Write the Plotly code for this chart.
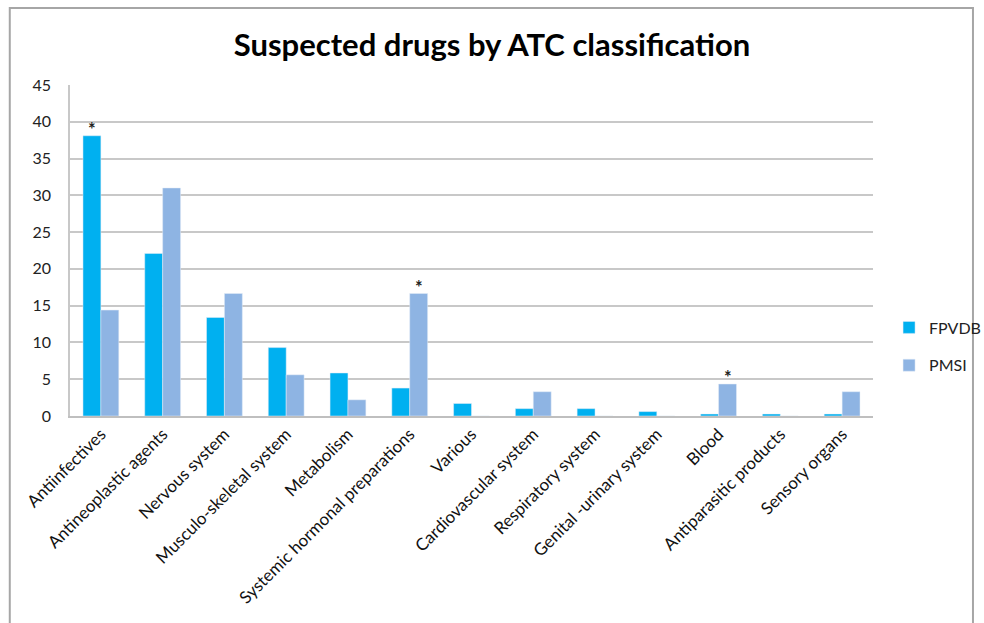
import plotly.graph_objects as go

categories = ["Antiinfectives", "Antineoplastic agents", "Nervous system", "Musculo-skeletal system",
              "Metabolism", "Systemic hormonal preparations", "Various", "Cardiovascular system",
              "Respiratory system", "Genital -urinary system", "Blood", "Antiparasitic products",
              "Sensory organs"]
fpvdb = [38.1, 22.1, 13.4, 9.3, 5.85, 3.8, 1.7, 1.0, 1.0, 0.6, 0.27, 0.27, 0.27]
pmsi = [14.4, 31.0, 16.65, 5.6, 2.2, 16.65, 0, 3.3, 0, 0, 4.35, 0, 3.3]
# (category index, series) marked with an asterisk
stars = [(0, "FPVDB"), (5, "PMSI"), (10, "PMSI")]

font = "Lato, 'Open Sans', sans-serif"

fig = go.Figure()
fig.add_trace(go.Bar(name="FPVDB", x=categories, y=fpvdb, marker_color="#00B0F0",
                     offsetgroup="a", legendgroup="a"))
fig.add_trace(go.Bar(name="PMSI", x=categories, y=pmsi, marker_color="#8EB4E3",
                     offsetgroup="b", legendgroup="b"))

for idx, ser in stars:
    vals = fpvdb if ser == "FPVDB" else pmsi
    fig.add_annotation(x=categories[idx], y=vals[idx], text="<b>*</b>", showarrow=False,
                       xshift=-9 if ser == "FPVDB" else 9, yshift=7,
                       font=dict(size=18, color="#222222", family=font))

fig.update_layout(
    width=984, height=623,
    margin=dict(l=70, r=111, t=85, b=207, autoexpand=False),
    paper_bgcolor="white", plot_bgcolor="white",
    barmode="group", bargap=0.42, bargroupgap=0,
    title=dict(text="<b>Suspected drugs by ATC classification</b>", x=0.5, xref="container",
               xanchor="center", y=0.928, yanchor="middle",
               font=dict(size=31, color="#000000", family=font)),
    font=dict(family=font, size=17, color="#111111"),
    legend=dict(x=1.02, y=0.21, yanchor="middle", xanchor="left", bgcolor="rgba(0,0,0,0)",
                font=dict(size=16, color="#222222"), traceorder="grouped", tracegroupgap=14,
                itemwidth=30),
    showlegend=True,
    shapes=[dict(type="rect", xref="paper", yref="paper", x0=-0.075, x1=1.1245, y0=-0.7, y1=1.233,
                 line=dict(color="#A6A6A6", width=2), fillcolor="rgba(0,0,0,0)", layer="below")],
)
fig.update_xaxes(tickangle=-45, showline=True, linecolor="#BFBFBF", linewidth=1.5,
                 tickfont=dict(size=17, color="#111111"), ticks="")
fig.update_yaxes(range=[0, 45], dtick=5, showgrid=True, gridcolor="#C8C8C8", gridwidth=1.5,
                 showline=True, linecolor="#C8C8C8", linewidth=1.5, zeroline=False,
                 tickfont=dict(size=16, color="#222222"), ticks="", ticklabelstandoff=14)

fig.write_html("out.html")
